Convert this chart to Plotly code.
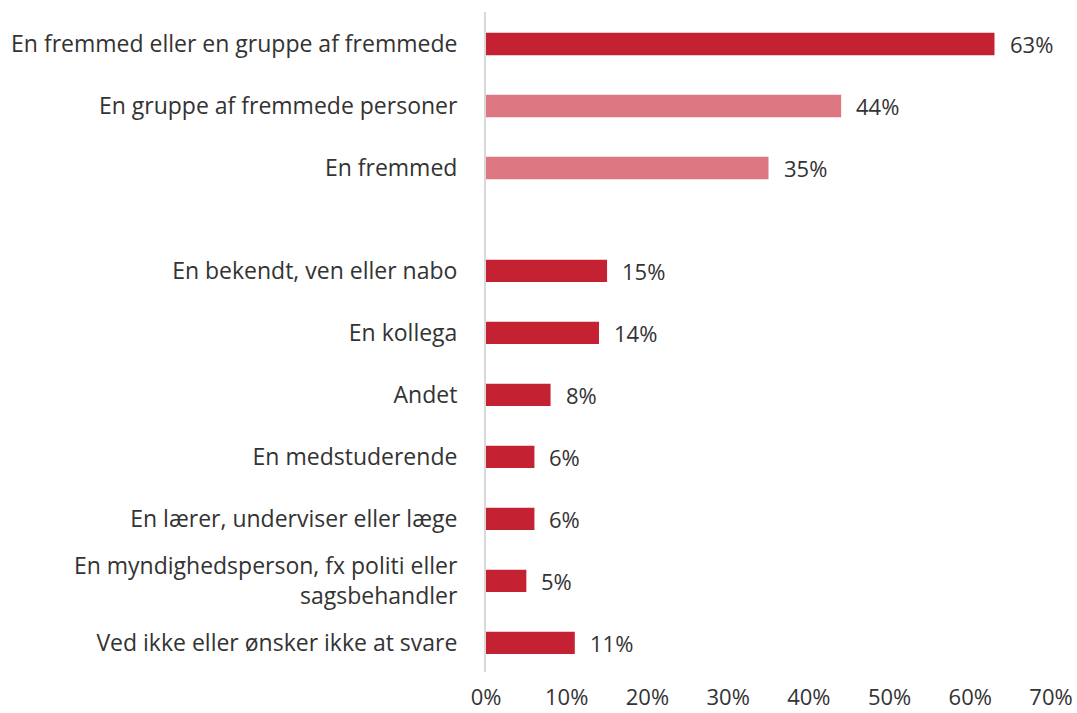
import plotly.graph_objects as go

categories = [
    "En fremmed eller en gruppe af fremmede",
    "En gruppe af fremmede personer",
    "En fremmed",
    "En bekendt, ven eller nabo",
    "En kollega",
    "Andet",
    "En medstuderende",
    "En lærer, underviser eller læge",
    "En myndighedsperson, fx politi eller<br>sagsbehandler",
    "Ved ikke eller ønsker ikke at svare",
]
values = [63, 44, 35, 15, 14, 8, 6, 6, 5, 11]
highlight = [False, True, True, False, False, False, False, False, False, False]
tick_labels = ["0%", "10%", "20%", "30%", "40%", "50%", "60%", "70%"]

DARK = "#C42133"
LIGHT = "#DD7882"
TEXT = "#333333"
FONT = "Open Sans"
FS = 22

gap = 0.66
ypos = [-(i + (gap if i >= 3 else 0)) for i in range(len(categories))]
colors = [LIGHT if h else DARK for h in highlight]

fig = go.Figure()
fig.add_trace(go.Bar(
    x=values, y=ypos, orientation="h",
    marker=dict(color=colors, line=dict(width=0)),
    width=0.36, hoverinfo="skip",
))

for v, y in zip(values, ypos):
    fig.add_annotation(x=v, y=y, text=f"{v}%", showarrow=False,
                       xanchor="left", yanchor="middle", xshift=13,
                       font=dict(family=FONT, size=FS, color=TEXT))

fig.update_layout(
    width=1077, height=713,
    margin=dict(l=486, r=26, t=12, b=41, autoexpand=False),
    plot_bgcolor="white", paper_bgcolor="white",
    showlegend=False,
    font=dict(family=FONT, size=FS, color=TEXT),
)
fig.update_xaxes(
    range=[0, 70], tickvals=[0, 10, 20, 30, 40, 50, 60, 70], ticktext=tick_labels,
    showgrid=False, zeroline=False, showline=False, automargin=False,
    tickfont=dict(family=FONT, size=FS, color=TEXT), ticks="",
    ticklabelstandoff=10,
)
fig.update_yaxes(
    range=[ypos[-1] - 0.47, 0.516],
    tickvals=ypos, ticktext=categories,
    showgrid=False, zeroline=False, showline=True, automargin=False,
    linecolor="#D9D9D9", linewidth=2, ticks="",
    ticklabelstandoff=22,
    tickfont=dict(family=FONT, size=23, color=TEXT),
)

fig.write_html("out.html", config={"displayModeBar": False},
               post_script="document.body.style.margin='0';")
